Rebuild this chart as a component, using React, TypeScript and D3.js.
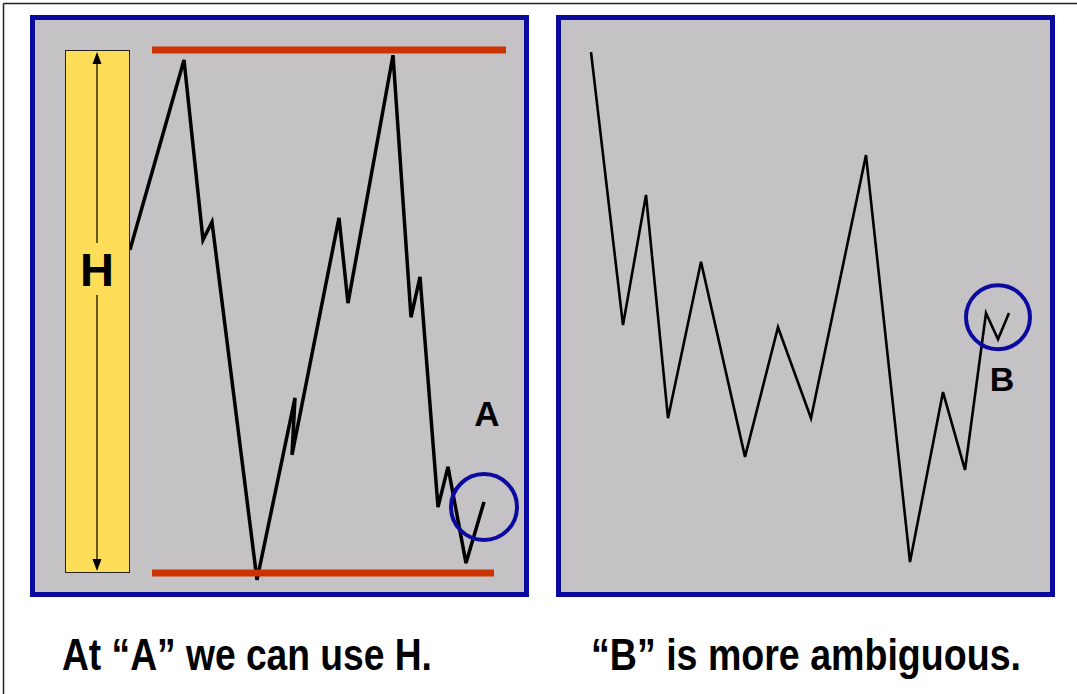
import React, { useLayoutEffect, useRef, useState } from "react";
import * as d3 from "d3";

// Left panel series: time index and price (0 = low line, 100 = high line)
const leftTimes = [100, 154, 173, 182, 227, 265, 262, 309, 318, 363, 381, 390, 408, 418, 436, 454];
const leftPrices = [61.8, 98.1, 63.7, 67.1, -1.3, 33.5, 22.6, 67.9, 51.6, 99.0, 48.9, 56.6, 12.6, 20.3, 1.9, 13.6];

// Right panel series
const rightTimes = [35, 67, 90, 112, 145, 189, 222, 255, 310, 354, 387, 409, 430, 442, 453];
const rightPrices = [99.6, 47.4, 72.3, 29.6, 59.5, 22.2, 47.0, 29.6, 79.9, 2.1, 34.6, 19.7, 49.7, 44.7, 49.7];

// Reference levels (left panel): high and low, with their time spans
const levelHigh = 100;
const levelLow = 0;
const highSpan = [122, 476];
const lowSpan = [122, 464];

// Highlight markers
const markerA = { t: 454, p: 12.6, label: "A", labelT: 457, labelP: 30.5 };
const markerB = { t: 442, p: 48.9, label: "B", labelT: 446, labelP: 37.3 };

const captions = ["At \u201CA\u201D we can use H.", "\u201CB\u201D is more ambiguous."];
const captionX = [62, 591];
const captionW = [370, 430];

const W = 1077;
const H = 694;
const panelTop = 15;
const panelBottom = 597;
const panels = [
  { x0: 30, x1: 529 },
  { x0: 556, x1: 1055 },
];

const yScale = d3.scaleLinear().domain([0, 100]).range([573, 50]);

function Caption({ text, x, width }: { text: string; x: number; width: number }) {
  const ref = useRef<SVGTextElement>(null);
  const [sx, setSx] = useState(0.8);
  useLayoutEffect(() => {
    if (ref.current) {
      const natural = ref.current.getComputedTextLength();
      if (natural > 0) setSx(width / natural);
    }
  }, [text, width]);
  return (
    <g transform={`translate(${x},670) scale(${sx},1)`}>
      <text
        ref={ref}
        x={0}
        y={0}
        fontFamily="'Liberation Sans Narrow', 'Liberation Sans', Arial, sans-serif"
        fontWeight="bold"
        fontSize={45}
        fill="#000"
      >
        {text}
      </text>
    </g>
  );
}

export default function App() {
  const xL = d3.scaleLinear().domain([0, 500]).range([30, 530]);
  const xR = d3.scaleLinear().domain([0, 500]).range([556, 1056]);

  const lineL = d3
    .line<number>()
    .x((_, i) => xL(leftTimes[i]))
    .y((_, i) => yScale(leftPrices[i]));
  const lineR = d3
    .line<number>()
    .x((_, i) => xR(rightTimes[i]))
    .y((_, i) => yScale(rightPrices[i]));

  const blue = "#0a0a9e";
  const gray = "#c4c2c5";
  const red = "#cc3300";

  const hx = 97;
  const hTop = yScale(levelHigh) + 2;
  const hBot = yScale(levelLow) - 2;

  return (
    <svg
      width={W}
      height={H}
      viewBox={`0 0 ${W} ${H}`}
      style={{ position: "absolute", left: 0, top: 0, background: "#fff" }}
    >
      {/* outer frame lines */}
      <line x1={3.5} y1={3.5} x2={W} y2={3.5} stroke="#222" strokeWidth={1.5} />
      <line x1={3.5} y1={3.5} x2={3.5} y2={H} stroke="#222" strokeWidth={1.5} />

      {panels.map((p, i) => (
        <rect
          key={i}
          x={p.x0 + 2.5}
          y={panelTop + 2.5}
          width={p.x1 - p.x0 - 5}
          height={panelBottom - panelTop - 5}
          fill={gray}
          stroke={blue}
          strokeWidth={5}
        />
      ))}

      {/* Left panel */}
      <path d={lineL(leftTimes) || ""} fill="none" stroke="#000" strokeWidth={3.5} strokeLinejoin="miter" />
      <rect x={65.5} y={50.5} width={64} height={522} fill="#fedd58" stroke="#222" strokeWidth={1} />
      <line x1={hx} y1={hTop + 8} x2={hx} y2={243} stroke="#000" strokeWidth={1.2} />
      <line x1={hx} y1={295} x2={hx} y2={hBot - 8} stroke="#000" strokeWidth={1.2} />
      <path d={`M${hx},${hTop} L${hx - 4.5},${hTop + 12} L${hx + 4.5},${hTop + 12} Z`} fill="#000" />
      <path d={`M${hx},${hBot} L${hx - 4.5},${hBot - 12} L${hx + 4.5},${hBot - 12} Z`} fill="#000" />
      <text
        x={hx}
        y={286}
        textAnchor="middle"
        fontFamily="'Liberation Sans', Arial, sans-serif"
        fontWeight="bold"
        fontSize={47}
        fill="#000"
      >
        H
      </text>

      <line x1={xL(highSpan[0])} x2={xL(highSpan[1])} y1={yScale(levelHigh)} y2={yScale(levelHigh)} stroke={red} strokeWidth={7} />
      <line x1={xL(lowSpan[0])} x2={xL(lowSpan[1])} y1={yScale(levelLow)} y2={yScale(levelLow)} stroke={red} strokeWidth={7} />

      <circle cx={xL(markerA.t)} cy={yScale(markerA.p)} r={33} fill="none" stroke={blue} strokeWidth={4} />
      <text
        x={xL(markerA.labelT)}
        y={yScale(markerA.labelP) + 13}
        textAnchor="middle"
        fontFamily="'Liberation Sans', Arial, sans-serif"
        fontWeight="bold"
        fontSize={35}
        fill="#000"
      >
        {markerA.label}
      </text>

      {/* Right panel */}
      <path d={lineR(rightTimes) || ""} fill="none" stroke="#000" strokeWidth={2.6} strokeLinejoin="miter" />
      <circle cx={xR(markerB.t)} cy={yScale(markerB.p)} r={32} fill="none" stroke={blue} strokeWidth={4} />
      <text
        x={xR(markerB.labelT)}
        y={yScale(markerB.labelP) + 13}
        textAnchor="middle"
        fontFamily="'Liberation Sans', Arial, sans-serif"
        fontWeight="bold"
        fontSize={34}
        fill="#000"
      >
        {markerB.label}
      </text>

      {/* Captions */}
      {captions.map((c, i) => (
        <Caption key={i} text={c} x={captionX[i]} width={captionW[i]} />
      ))}
    </svg>
  );
}
